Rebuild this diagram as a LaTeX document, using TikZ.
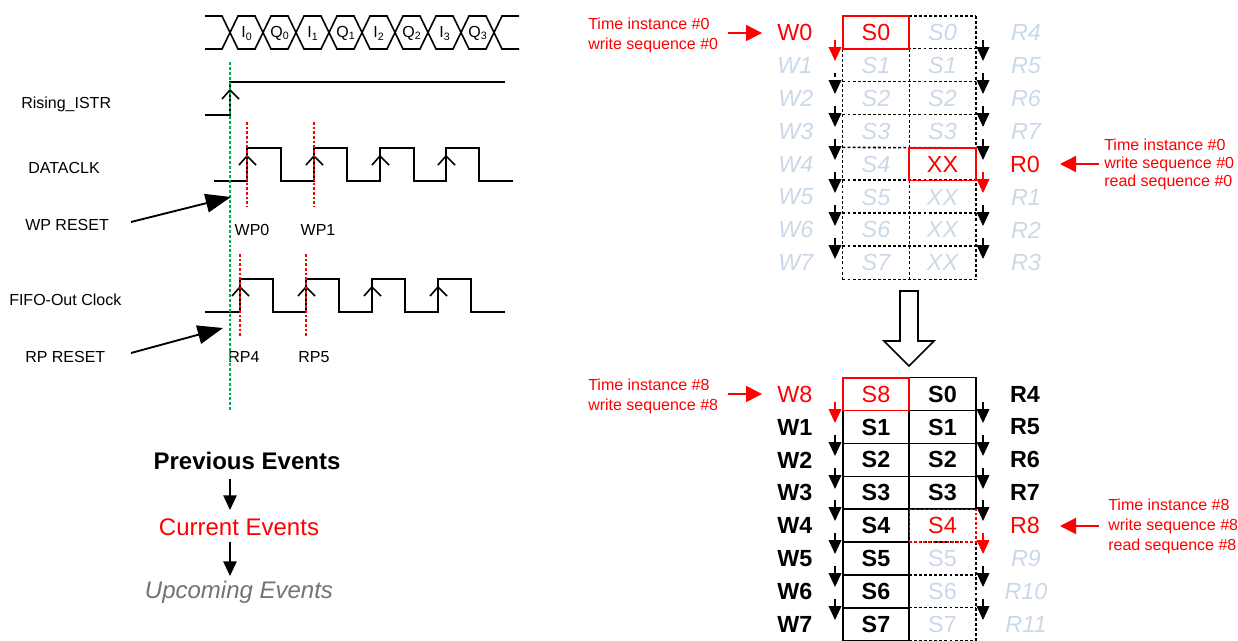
\documentclass[tikz,border=0pt]{standalone}
\usepackage{fontspec}
\setmainfont{Liberation Sans}
\usetikzlibrary{arrows.meta}
\usetikzlibrary{calc}

\definecolor{faded}{HTML}{CAD8E9}
\definecolor{marker}{HTML}{00B050}

\tikzset{
    wave/.style={black, line width=1.2pt},
    redmark/.style={red, line width=1pt, dash pattern=on 2pt off 1.5pt},
    greenmark/.style={marker, line width=1.2pt, dash pattern=on 2.2pt off 1.5pt},
    griddash/.style={black, line width=1.2pt, dash pattern=on 2.2pt off 1.6pt},
    sig/.style={anchor=west, inner sep=0pt, font=\fontsize{12}{15}\selectfont},
    pt/.style={inner sep=0pt, font=\fontsize{12}{15}\selectfont},
    note/.style={anchor=west, inner sep=0pt, align=left, red, font=\fontsize{12}{15}\selectfont},
    big/.style={inner sep=0pt, font=\fontsize{17.5}{20}\selectfont},
    wlive/.style={big, anchor=west, red},
    wdone/.style={big, anchor=west, font=\fontsize{17.5}{20}\selectfont\bfseries},
    wnext/.style={big, anchor=west, faded, font=\fontsize{17.5}{20}\selectfont\itshape},
    rlive/.style={big, red},
    rdone/.style={big, font=\fontsize{17.5}{20}\selectfont\bfseries},
    rnext/.style={big, faded, font=\fontsize{17.5}{20}\selectfont\itshape},
    cell/.style={rectangle, inner sep=0pt, minimum width=49.9pt, minimum height=24.7pt, font=\fontsize{17.5}{20}\selectfont},
    cellnext/.style={cell, faded, font=\fontsize{17.5}{20}\selectfont\itshape},
    cellplain/.style={cell, faded},
    celldone/.style={cell, draw=black, line width=1.2pt, font=\fontsize{17.5}{20}\selectfont\bfseries},
    celllive/.style={cell, red, draw=red, line width=1.3pt},
    cellread/.style={cell, red, draw=red, line width=1.1pt, dash pattern=on 2pt off 1.5pt},
    rowarrow/.style={-{Triangle[length=10.5pt,width=9.5pt]}, line width=1.2pt},
    notearrow/.style={red, -{Triangle[length=12pt,width=12pt]}, line width=1.1pt},
    resetarrow/.style={-{Triangle[length=19pt,width=14pt]}, line width=1.4pt},
    legendarrow/.style={-{Triangle[length=11pt,width=10pt]}, line width=1.2pt},
}

\begin{document}
\begin{tikzpicture}[x=0.75pt, y=-0.75pt]
    \useasboundingbox (0,0) rectangle (1238,640);

    \draw[wave] (205,16) -- (222,16) -- (238,49) -- (255,49) -- (271,16) -- (288,16) -- (304,49) -- (321,49) -- (337,16) -- (354,16) -- (370,49) -- (387,49) -- (403,16) -- (420,16) -- (436,49) -- (453,49) -- (469,16) -- (486,16) -- (502,49) -- (519,49);
    \draw[wave] (205,49) -- (222,49) -- (238,16) -- (255,16) -- (271,49) -- (288,49) -- (304,16) -- (321,16) -- (337,49) -- (354,49) -- (370,16) -- (387,16) -- (403,49) -- (420,49) -- (436,16) -- (453,16) -- (469,49) -- (486,49) -- (502,16) -- (519,16);
    \node[pt] (i0) at (247,33.5) {I\textsubscript{0}};
    \node[pt] (q0) at (280,33.5) {Q\textsubscript{0}};
    \node[pt] (i1) at (313,33.5) {I\textsubscript{1}};
    \node[pt] (q1) at (346,33.5) {Q\textsubscript{1}};
    \node[pt] (i2) at (379,33.5) {I\textsubscript{2}};
    \node[pt] (q2) at (412,33.5) {Q\textsubscript{2}};
    \node[pt] (i3) at (445,33.5) {I\textsubscript{3}};
    \node[pt] (q3) at (478,33.5) {Q\textsubscript{3}};

    \node[sig] (istr) at (21,104) {Rising\_ISTR};
    \node[sig] (dclk) at (28,168) {DATACLK};
    \node[sig] (wprst) at (25,225) {WP RESET};
    \node[sig] (fclk) at (9,300) {FIFO-Out Clock};
    \node[sig] (rprst) at (25,357) {RP RESET};
    \node[pt] (wp0) at (252,230) {WP0};
    \node[pt] (wp1) at (318,230) {WP1};
    \node[pt] (rp4) at (244,357) {RP4};
    \node[pt] (rp5) at (314,357) {RP5};

    \draw[wave] (205,115) -- (230,115) -- (230,82) -- (505,82);
    \draw[wave] (222,99) -- (230,90) -- (239,99);

    \draw[wave] (214,181) -- (247,181) -- (247,148) -- (281,148) -- (281,181) -- (314,181) -- (314,148) -- (347,148) -- (347,181) -- (380,181) -- (380,148) -- (414,148) -- (414,181) -- (446,181) -- (446,148) -- (479,148) -- (479,181) -- (513,181);
    \draw[wave] (239,165) -- (247,156) -- (256,165);
    \draw[wave] (306,165) -- (314,156) -- (323,165);
    \draw[wave] (372,165) -- (380,156) -- (389,165);
    \draw[wave] (438,165) -- (446,156) -- (455,165);

    \draw[wave] (205,312) -- (240,312) -- (240,279) -- (273,279) -- (273,312) -- (306,312) -- (306,279) -- (339,279) -- (339,312) -- (372,312) -- (372,279) -- (405,279) -- (405,312) -- (438,312) -- (438,279) -- (471,279) -- (471,312) -- (505,312);
    \draw[wave] (232,296) -- (240,287) -- (249,296);
    \draw[wave] (298,296) -- (306,287) -- (315,296);
    \draw[wave] (364,296) -- (372,287) -- (381,296);
    \draw[wave] (430,296) -- (438,287) -- (447,296);

    \draw[redmark] (247,122) -- (247,207);
    \draw[redmark] (314,122) -- (314,207);
    \draw[redmark] (240,254) -- (240,338);
    \draw[redmark] (306,254) -- (306,338);
    \draw[greenmark] (230,62) -- (230,410);

    \coordinate (wpfrom) at (131,222);
    \coordinate (wpto) at (231,197);
    \coordinate (rpfrom) at (131,353);
    \coordinate (rpto) at (223,328);
    \draw[resetarrow] (wpfrom) -- (wpto);
    \draw[resetarrow] (rpfrom) -- (rpto);

    \node[inner sep=0pt, font=\fontsize{18}{20}\selectfont\bfseries] (prev) at (247,461) {Previous Events};
    \node[inner sep=0pt, red, font=\fontsize{18}{20}\selectfont] (curr) at (239,527) {Current Events};
    \node[inner sep=0pt, black!55, font=\fontsize{18}{20}\selectfont\itshape] (next) at (239,592.5) {Upcoming Events};
    \coordinate (leg1) at (230,479);
    \coordinate (leg2) at (230,510);
    \coordinate (leg3) at (230,542);
    \coordinate (leg4) at (230,576);
    \draw[legendarrow] (leg1) -- (leg2);
    \draw[legendarrow] (leg3) -- (leg4);

    \node[note] (inst0) at (588,35) {Time instance \#0\\write sequence \#0};
    \node[note, font=\fontsize{12}{13.5}\selectfont] (inst0r) at (1104,164) {Time instance \#0\\write sequence \#0\\read sequence \#0};
    \node[note] (inst8) at (588,396) {Time instance \#8\\write sequence \#8};
    \node[note] (inst8r) at (1108,526) {Time instance \#8\\write sequence \#8\\read sequence \#8};

    \node[wlive] (wa0) at (777,32.5) {W0};
    \node[wnext] (wa1) at (777,65.4) {W1};
    \node[wnext] (wa2) at (778,98.3) {W2};
    \node[wnext] (wa3) at (778,131.2) {W3};
    \node[wnext] (wa4) at (778,164.1) {W4};
    \node[wnext] (wa5) at (778,197) {W5};
    \node[wnext] (wa6) at (778,229.9) {W6};
    \node[wnext] (wa7) at (778,262.8) {W7};

    \node[rnext] (ra4) at (1026,32.5) {R4};
    \node[rnext] (ra5) at (1026,65.4) {R5};
    \node[rnext] (ra6) at (1026,98.3) {R6};
    \node[rnext] (ra7) at (1026,131.2) {R7};
    \node[rlive] (ra0) at (1025,164.1) {R0};
    \node[rnext] (ra1) at (1026,197) {R1};
    \node[rnext] (ra2) at (1026,229.9) {R2};
    \node[rnext] (ra3) at (1026,262.8) {R3};

    \node[cellnext] (ta1) at (876,65.4) {S1};
    \node[cellnext] (ta2) at (876,98.3) {S2};
    \node[cellnext] (ta3) at (876,131.2) {S3};
    \node[cellnext] (ta4) at (876,164.1) {S4};
    \node[cellnext] (ta5) at (876,197) {S5};
    \node[cellnext] (ta6) at (876,229.9) {S6};
    \node[cellnext] (ta7) at (876,262.8) {S7};
    \node[cellnext] (ub0) at (942.5,32.5) {S0};
    \node[cellnext] (ub1) at (942.5,65.4) {S1};
    \node[cellnext] (ub2) at (942.5,98.3) {S2};
    \node[cellnext] (ub3) at (942.5,131.2) {S3};
    \node[cellnext] (ub5) at (942.5,197) {XX};
    \node[cellnext] (ub6) at (942.5,229.9) {XX};
    \node[cellnext] (ub7) at (942.5,262.8) {XX};

    \draw[griddash] (ub0.north west) -- (ub0.north east);
    \draw[griddash] (ta1.north west) -- (ub1.north east);
    \draw[griddash] (ta2.north west) -- (ub2.north east);
    \draw[griddash] (ta3.north west) -- (ub3.north east);
    \draw[griddash] (ta4.north west) -- (ub3.south east);
    \draw[griddash] (ta5.north west) -- (ub5.north east);
    \draw[griddash] (ta6.north west) -- (ub6.north east);
    \draw[griddash] (ta7.north west) -- (ub7.north east);
    \draw[griddash] (ta7.south west) -- (ub7.south east);
    \draw[griddash] (ta1.north west) -- (ta7.south west);
    \draw[griddash] (ta1.north east) -- (ta7.south east);
    \draw[griddash] (ub0.north east) -- (ub7.south east);

    \node[celllive] (ta0) at (876,32.5) {S0};
    \node[celllive] (ub4) at (942.5,164.1) {XX};

    \draw[rowarrow, red] (835,40) -- (835,61);
    \draw[rowarrow, dashed] (835,73) -- (835,94);
    \draw[rowarrow] (835,106) -- (835,127);
    \draw[rowarrow] (835,139) -- (835,160);
    \draw[rowarrow] (835,172) -- (835,193);
    \draw[rowarrow] (835,205) -- (835,226);
    \draw[rowarrow] (835,238) -- (835,259);
    \draw[rowarrow] (983,40) -- (983,61);
    \draw[rowarrow] (983,73) -- (983,94);
    \draw[rowarrow] (983,106) -- (983,127);
    \draw[rowarrow] (983,139) -- (983,160);
    \draw[rowarrow, red] (983,172) -- (983,193);
    \draw[rowarrow] (983,205) -- (983,226);
    \draw[rowarrow] (983,238) -- (983,259);

    \draw[wave, fill=white] (900,291) -- (918,291) -- (918,341) -- (934,341) -- (909,366) -- (884,341) -- (900,341) -- cycle;

    \node[wlive] (wb8) at (777,394.1) {W8};
    \node[wdone] (wb1) at (777,427) {W1};
    \node[wdone] (wb2) at (777,459.9) {W2};
    \node[wdone] (wb3) at (777,492.8) {W3};
    \node[wdone] (wb4) at (777,525.7) {W4};
    \node[wdone] (wb5) at (777,558.6) {W5};
    \node[wdone] (wb6) at (777,591.5) {W6};
    \node[wdone] (wb7) at (777,624.4) {W7};

    \node[rdone] (rb4) at (1025,394.1) {R4};
    \node[rdone] (rb5) at (1025,427) {R5};
    \node[rdone] (rb6) at (1025,459.9) {R6};
    \node[rdone] (rb7) at (1025,492.8) {R7};
    \node[rlive] (rb8) at (1025,525.7) {R8};
    \node[rnext] (rb9) at (1026,558.6) {R9};
    \node[rnext] (rb10) at (1026,591.5) {R10};
    \node[rnext] (rb11) at (1026,624.4) {R11};

    \node[cellplain] (vb5) at (942.5,558.6) {S5};
    \node[cellplain] (vb6) at (942.5,591.5) {S6};
    \node[cellplain] (vb7) at (942.5,624.4) {S7};
    \draw[griddash] (vb5.north west) -- (vb5.north east);
    \draw[griddash] (vb6.north west) -- (vb6.north east);
    \draw[griddash] (vb7.north west) -- (vb7.north east);
    \draw[griddash] (vb7.south west) -- (vb7.south east);
    \draw[griddash] (vb5.north east) -- (vb7.south east);

    \node[celldone] (va1) at (876,427) {S1};
    \node[celldone] (va2) at (876,459.9) {S2};
    \node[celldone] (va3) at (876,492.8) {S3};
    \node[celldone] (va4) at (876,525.7) {S4};
    \node[celldone] (va5) at (876,558.6) {S5};
    \node[celldone] (va6) at (876,591.5) {S6};
    \node[celldone] (va7) at (876,624.4) {S7};
    \node[celldone] (vb0) at (942.5,394.1) {S0};
    \node[celldone] (vb1) at (942.5,427) {S1};
    \node[celldone] (vb2) at (942.5,459.9) {S2};
    \node[celldone] (vb3) at (942.5,492.8) {S3};
    \node[cellread] (vb4) at (942.5,525.7) {S4};
    \node[celllive] (va8) at (876,394.1) {S8};

    \draw[rowarrow, red] (835,402) -- (835,423);
    \draw[rowarrow] (835,435) -- (835,456);
    \draw[rowarrow] (835,468) -- (835,489);
    \draw[rowarrow] (835,500) -- (835,521);
    \draw[rowarrow] (835,533) -- (835,554);
    \draw[rowarrow] (835,566) -- (835,587);
    \draw[rowarrow] (835,599) -- (835,620);
    \draw[rowarrow] (983,402) -- (983,423);
    \draw[rowarrow] (983,435) -- (983,456);
    \draw[rowarrow] (983,468) -- (983,489);
    \draw[rowarrow] (983,500) -- (983,521);
    \draw[rowarrow, red] (983,533) -- (983,554);
    \draw[rowarrow] (983,566) -- (983,587);
    \draw[rowarrow] (983,599) -- (983,620);

    \coordinate (na1) at (728,33);
    \coordinate (na2) at (762,33);
    \coordinate (nb1) at (1099,164);
    \coordinate (nb2) at (1060,164);
    \coordinate (nc1) at (728,394);
    \coordinate (nc2) at (762,394);
    \coordinate (nd1) at (1099,526);
    \coordinate (nd2) at (1060,526);
    \draw[notearrow] (na1) -- (na2);
    \draw[notearrow] (nb1) -- (nb2);
    \draw[notearrow] (nc1) -- (nc2);
    \draw[notearrow] (nd1) -- (nd2);
\end{tikzpicture}
\end{document}
